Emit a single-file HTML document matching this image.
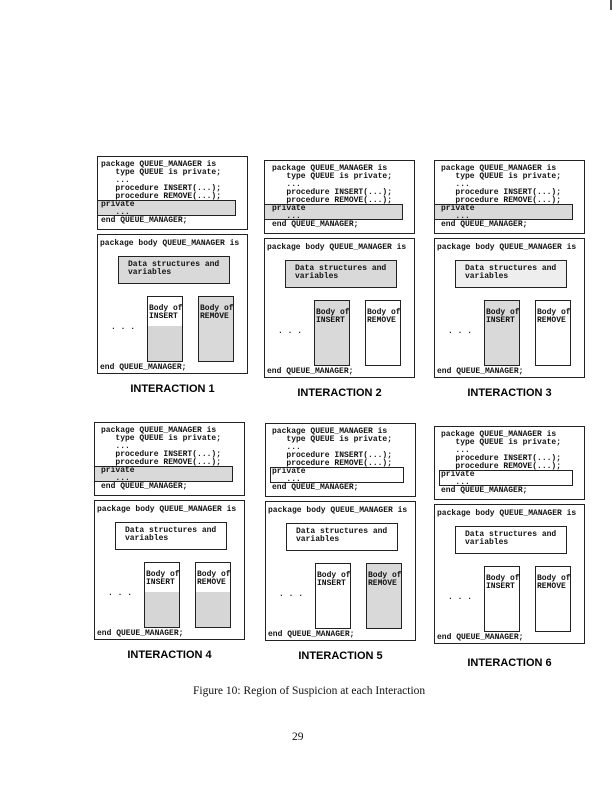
<!DOCTYPE html>
<html><head><meta charset="utf-8"><style>
body{margin:0;width:612px;height:791px;background:#fff;position:relative;overflow:hidden}
.p{position:absolute;width:151px;height:240px}
.b{position:absolute;border:1.3px solid #222;box-sizing:border-box;background:#fff}
.t{position:absolute;font-family:"Liberation Mono",monospace;font-weight:bold;font-size:8px;line-height:8px;white-space:pre;color:#111}
.s{background:#d9d9d9}
.h{background:linear-gradient(#fff 0,#fff 45%,#d6d6d6 45%)}
.lab{position:absolute;top:227px;left:0;width:151px;text-align:center;font-family:"Liberation Sans",sans-serif;font-weight:bold;font-size:11px}
.cap{position:absolute;font-family:"Liberation Serif",serif;font-size:11.5px;color:#111}
</style></head><body>
<div style="position:absolute;left:610px;top:0;width:1.5px;height:10px;background:#555"></div>

<!-- P1 -->
<div class="p" style="left:97px;top:156px">
<div class="b" style="left:0;top:0;width:151px;height:74px"></div>
<div class="b s" style="left:0;top:44px;width:139px;height:16px"></div>
<div class="t" style="left:4px;top:5px">package QUEUE_MANAGER is
   type QUEUE is private;
   ...
   procedure INSERT(...);
   procedure REMOVE(...);
private
   ...
end QUEUE_MANAGER;</div>
<div class="b" style="left:0;top:78px;width:151px;height:140px"></div>
<div class="t" style="left:3px;top:84px">package body QUEUE_MANAGER is</div>
<div class="b s" style="left:21px;top:100px;width:112px;height:28px"></div>
<div class="t" style="left:31px;top:105px">Data structures and
variables</div>
<div class="b h" style="left:50px;top:140px;width:36px;height:66px"></div>
<div class="b s" style="left:101px;top:140px;width:36px;height:66px"></div>
<div class="t" style="left:52px;top:149px">Body of
INSERT</div>
<div class="t" style="left:103px;top:149px">Body of
REMOVE</div>
<div class="t" style="left:14px;top:168px">. . .</div>
<div class="t" style="left:3px;top:208px">end QUEUE_MANAGER;</div>
<div class="lab">INTERACTION 1</div>
</div>

<!-- P2 -->
<div class="p" style="left:264px;top:160px">
<div class="b" style="left:0;top:0;width:151px;height:74px"></div>
<div class="b s" style="left:0;top:44px;width:139px;height:16px"></div>
<div class="t" style="left:8px;top:5px">package QUEUE_MANAGER is
   type QUEUE is private;
   ...
   procedure INSERT(...);
   procedure REMOVE(...);
private
   ...
end QUEUE_MANAGER;</div>
<div class="b" style="left:0;top:78px;width:151px;height:140px"></div>
<div class="t" style="left:3px;top:84px">package body QUEUE_MANAGER is</div>
<div class="b s" style="left:21px;top:100px;width:112px;height:28px"></div>
<div class="t" style="left:31px;top:105px">Data structures and
variables</div>
<div class="b s" style="left:50px;top:140px;width:36px;height:66px"></div>
<div class="b" style="left:101px;top:140px;width:36px;height:66px"></div>
<div class="t" style="left:52px;top:149px">Body of
INSERT</div>
<div class="t" style="left:103px;top:149px">Body of
REMOVE</div>
<div class="t" style="left:14px;top:168px">. . .</div>
<div class="t" style="left:3px;top:208px">end QUEUE_MANAGER;</div>
<div class="lab">INTERACTION 2</div>
</div>

<!-- P3 -->
<div class="p" style="left:434px;top:160px">
<div class="b" style="left:0;top:0;width:151px;height:74px"></div>
<div class="b s" style="left:0;top:44px;width:139px;height:16px"></div>
<div class="t" style="left:7px;top:5px">package QUEUE_MANAGER is
   type QUEUE is private;
   ...
   procedure INSERT(...);
   procedure REMOVE(...);
private
   ...
end QUEUE_MANAGER;</div>
<div class="b" style="left:0;top:78px;width:151px;height:140px"></div>
<div class="t" style="left:3px;top:84px">package body QUEUE_MANAGER is</div>
<div class="b" style="left:21px;top:100px;width:112px;height:28px;background:#eee"></div>
<div class="t" style="left:31px;top:105px">Data structures and
variables</div>
<div class="b s" style="left:50px;top:140px;width:36px;height:66px"></div>
<div class="b" style="left:101px;top:140px;width:36px;height:66px"></div>
<div class="t" style="left:52px;top:149px">Body of
INSERT</div>
<div class="t" style="left:103px;top:149px">Body of
REMOVE</div>
<div class="t" style="left:14px;top:168px">. . .</div>
<div class="t" style="left:3px;top:208px">end QUEUE_MANAGER;</div>
<div class="lab">INTERACTION 3</div>
</div>

<!-- P4 -->
<div class="p" style="left:94px;top:422px">
<div class="b" style="left:0;top:0;width:151px;height:74px"></div>
<div class="b s" style="left:0;top:44px;width:139px;height:16px"></div>
<div class="t" style="left:7px;top:5px">package QUEUE_MANAGER is
   type QUEUE is private;
   ...
   procedure INSERT(...);
   procedure REMOVE(...);
private
   ...
end QUEUE_MANAGER;</div>
<div class="b" style="left:0;top:78px;width:151px;height:140px"></div>
<div class="t" style="left:3px;top:84px">package body QUEUE_MANAGER is</div>
<div class="b" style="left:21px;top:100px;width:112px;height:28px"></div>
<div class="t" style="left:31px;top:105px">Data structures and
variables</div>
<div class="b h" style="left:50px;top:140px;width:36px;height:66px"></div>
<div class="b h" style="left:101px;top:140px;width:36px;height:66px"></div>
<div class="t" style="left:52px;top:149px">Body of
INSERT</div>
<div class="t" style="left:103px;top:149px">Body of
REMOVE</div>
<div class="t" style="left:14px;top:168px">. . .</div>
<div class="t" style="left:3px;top:208px">end QUEUE_MANAGER;</div>
<div class="lab">INTERACTION 4</div>
</div>

<!-- P5 -->
<div class="p" style="left:265px;top:423px">
<div class="b" style="left:0;top:0;width:151px;height:74px"></div>
<div class="b" style="left:5px;top:44px;width:134px;height:16px"></div>
<div class="t" style="left:7px;top:5px">package QUEUE_MANAGER is
   type QUEUE is private;
   ...
   procedure INSERT(...);
   procedure REMOVE(...);
private
   ...
end QUEUE_MANAGER;</div>
<div class="b" style="left:0;top:78px;width:151px;height:140px"></div>
<div class="t" style="left:3px;top:84px">package body QUEUE_MANAGER is</div>
<div class="b" style="left:21px;top:100px;width:112px;height:28px"></div>
<div class="t" style="left:31px;top:105px">Data structures and
variables</div>
<div class="b" style="left:50px;top:140px;width:36px;height:66px"></div>
<div class="b s" style="left:101px;top:140px;width:36px;height:66px"></div>
<div class="t" style="left:52px;top:149px">Body of
INSERT</div>
<div class="t" style="left:103px;top:149px">Body of
REMOVE</div>
<div class="t" style="left:14px;top:168px">. . .</div>
<div class="t" style="left:3px;top:208px">end QUEUE_MANAGER;</div>
<div class="lab">INTERACTION 5</div>
</div>

<!-- P6 -->
<div class="p" style="left:434px;top:426px">
<div class="b" style="left:0;top:0;width:151px;height:74px"></div>
<div class="b" style="left:5px;top:44px;width:134px;height:16px"></div>
<div class="t" style="left:7px;top:5px">package QUEUE_MANAGER is
   type QUEUE is private;
   ...
   procedure INSERT(...);
   procedure REMOVE(...);
private
   ...
end QUEUE_MANAGER;</div>
<div class="b" style="left:0;top:78px;width:151px;height:140px"></div>
<div class="t" style="left:3px;top:84px">package body QUEUE_MANAGER is</div>
<div class="b" style="left:21px;top:100px;width:112px;height:28px"></div>
<div class="t" style="left:31px;top:105px">Data structures and
variables</div>
<div class="b" style="left:50px;top:140px;width:36px;height:66px"></div>
<div class="b" style="left:101px;top:140px;width:36px;height:66px"></div>
<div class="t" style="left:52px;top:149px">Body of
INSERT</div>
<div class="t" style="left:103px;top:149px">Body of
REMOVE</div>
<div class="t" style="left:14px;top:168px">. . .</div>
<div class="t" style="left:3px;top:208px">end QUEUE_MANAGER;</div>
<div class="lab" style="top:231px">INTERACTION 6</div>
</div>

<div class="cap" style="left:193px;top:685px">Figure 10: Region of Suspicion at each Interaction</div>
<div class="cap" style="left:292px;top:731px">29</div>
</body></html>
